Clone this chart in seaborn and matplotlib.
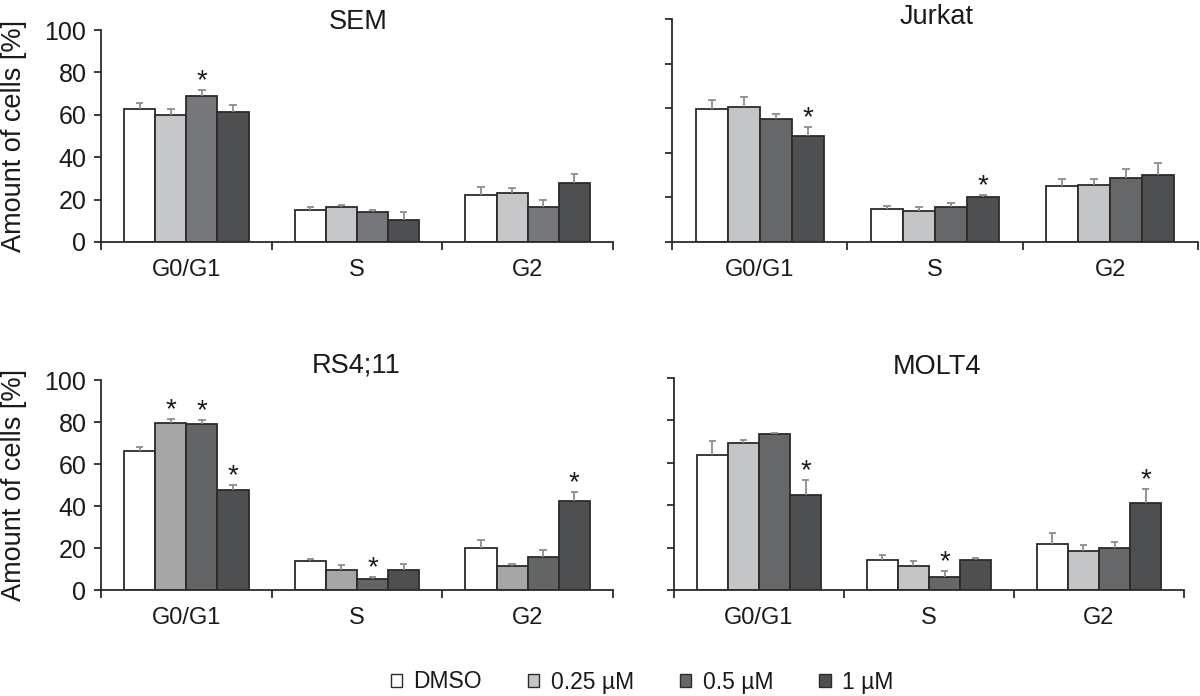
import pandas as pd
import matplotlib
matplotlib.use('Agg')
import matplotlib.pyplot as plt
import seaborn as sns
from matplotlib.patches import Patch
from matplotlib.ticker import FixedLocator


phases = ['G0/G1', 'S', 'G2']
doses = ['DMSO', '0.25 µM', '0.5 µM', '1 µM']
panels = ['SEM', 'Jurkat', 'RS4;11', 'MOLT4']

# mean values, one list per dose (G0/G1, S, G2)
sem_means = [[62.8, 14.9, 22.4], [60.0, 16.5, 23.1], [69.1, 14.1, 16.5], [61.5, 10.4, 27.6]]
sem_errs = [[2.7, 1.7, 3.5], [2.6, 0.8, 2.2], [2.6, 1.1, 3.4], [2.9, 3.7, 4.7]]
jurkat_means = [[59.8, 14.6, 25.0], [60.5, 13.7, 25.7], [55.3, 15.6, 28.9], [47.4, 20.0, 29.9]]
jurkat_errs = [[4.1, 1.6, 3.4], [4.5, 1.8, 2.4], [2.3, 1.8, 3.7], [4.3, 1.1, 5.6]]
rs411_means = [[66.0, 13.9, 20.2], [79.4, 9.4, 11.5], [79.1, 5.4, 15.9], [47.4, 9.4, 42.2]]
rs411_errs = [[2.0, 1.1, 3.7], [2.0, 2.7, 0.9], [1.8, 0.9, 3.3], [2.7, 3.0, 4.3]]
molt4_means = [[63.6, 14.0, 21.7], [69.3, 11.5, 18.3], [73.5, 6.3, 19.8], [44.9, 14.2, 40.9]]
molt4_errs = [[6.6, 2.5, 5.1], [1.6, 2.4, 3.1], [0.7, 2.5, 3.0], [7.2, 0.8, 6.8]]

# significance stars: (dose index, phase index)
sem_stars = [(2, 0)]
jurkat_stars = [(3, 0), (3, 1)]
rs411_stars = [(1, 0), (2, 0), (3, 0), (2, 1), (3, 2)]
molt4_stars = [(3, 0), (2, 1), (3, 2)]

means = [sem_means, jurkat_means, rs411_means, molt4_means]
errs = [sem_errs, jurkat_errs, rs411_errs, molt4_errs]
stars = [sem_stars, jurkat_stars, rs411_stars, molt4_stars]

base_colors = ['#ffffff', '#c4c5c7', '#666769', '#4e4f51']
panel_colors = [
    ['#ffffff', '#c6c7c9', '#76777a', '#4e4f51'],
    base_colors,
    ['#ffffff', '#a6a6a7', '#636466', '#4e4f51'],
    base_colors,
]

sns.set_style('ticks')
plt.rcParams['font.family'] = ['Liberation Sans', 'DejaVu Sans']
plt.rcParams['text.color'] = '#1a1a1a'

fig = plt.figure(figsize=(12, 6.96), dpi=100)
W, H = 1200, 696

# axes boxes in pixels: left, top, right, bottom
boxes = [(101, 30, 613, 242), (672, 19, 1198, 242), (101, 380, 613, 590), (674, 378, 1184, 590)]
title_pos = [(358, 22), (937, 17), (356, 365), (937, 367)]

edge = '#2b2b2b'
for i, name in enumerate(panels):
    l, t, r, b = boxes[i]
    ax = fig.add_axes([l / W, 1 - b / H, (r - l) / W, (b - t) / H])
    rows = []
    for d, dose in enumerate(doses):
        for p, ph in enumerate(phases):
            rows.append({'phase': ph, 'dose': dose, 'value': means[i][d][p]})
    df = pd.DataFrame(rows)
    pal = dict(zip(doses, panel_colors[i]))
    sns.barplot(data=df, x='phase', y='value', hue='dose', order=phases, hue_order=doses,
                palette=pal, width=0.73, errorbar=None, edgecolor=edge, linewidth=1.3,
                saturation=1, legend=False, ax=ax)

    for d, cont in enumerate(ax.containers):
        for p, bar in enumerate(cont.patches):
            x = bar.get_x() + bar.get_width() / 2
            top = bar.get_height()
            e = errs[i][d][p]
            ax.vlines(x, top, top + e, color='#8c8c8c', lw=1.3, zorder=3)
            ax.hlines(top + e, x - 0.022, x + 0.022, color='#8c8c8c', lw=1.3, zorder=3)
            if (d, p) in stars[i]:
                ax.annotate('*', (x, top + e), xytext=(0, -3), textcoords='offset points',
                            ha='center', va='bottom', fontsize=20, color='#1a1a1a')

    ax.set_xlim(-0.5, 2.5)
    ax.set_ylim(0, 100)
    ax.set_yticks([0, 20, 40, 60, 80, 100])
    ax.xaxis.set_minor_locator(FixedLocator([-0.5, 0.5, 1.5, 2.5]))
    ax.tick_params(axis='x', which='major', length=0, pad=12, labelsize=17, colors='#1a1a1a')
    ax.tick_params(axis='x', which='minor', length=6, width=1.3, color=edge)
    ax.tick_params(axis='y', length=5, width=1.3, color=edge, pad=5.5, labelsize=18, labelcolor='#1a1a1a')
    ax.set_xlabel('')
    if i % 2 == 0:
        ax.set_ylabel('Amount of cells [%]', fontsize=19.5, color='#1a1a1a')
        ax.yaxis.set_label_coords(-0.145, 0.5)
    else:
        ax.set_ylabel('')
        ax.set_yticklabels([])
    for s in ['top', 'right']:
        ax.spines[s].set_visible(False)
    for s in ['left', 'bottom']:
        ax.spines[s].set_color(edge)
        ax.spines[s].set_linewidth(1.3)
    tx, ty = title_pos[i]
    fig.text(tx / W, 1 - ty / H, name, ha='center', va='center', fontsize=19.5)

handles = [Patch(facecolor=c, edgecolor=edge, linewidth=1.0) for c in base_colors]
fig.legend(handles, doses, loc='center', bbox_to_anchor=(642 / W, 1 - 682 / H), ncol=4,
           frameon=False, fontsize=16.5, handlelength=0.5, handleheight=0.5,
           handletextpad=0.5, columnspacing=2.0)

fig.savefig('out.png', dpi=100)
